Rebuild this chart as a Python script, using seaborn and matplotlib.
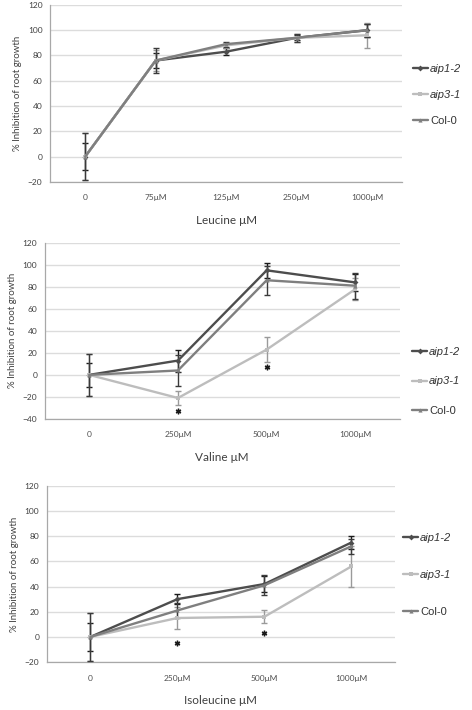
import numpy as np
import pandas as pd
import matplotlib
matplotlib.use("Agg")
import matplotlib.pyplot as plt
import seaborn as sns

GENOTYPES = ['aip1-2', 'aip3-1', 'Col-0']
COLORS = {'aip1-2': '#4d4d4d', 'aip3-1': '#bdbdbd', 'Col-0': '#7f7f7f'}
ERR_COLORS = {'aip1-2': '#1a1a1a', 'aip3-1': '#9a9a9a', 'Col-0': '#3a3a3a'}
MARKERS = {'aip1-2': 'D', 'aip3-1': 's', 'Col-0': '^'}

# Leucine
LEU_DOSES = ['0', '75μM', '125μM', '250μM', '1000μM']
LEU_AIP12 = [0, 76, 83, 94, 100]
LEU_AIP12_ERR = [11, 6, 3, 2, 5]
LEU_AIP31 = [0, 76, 88, 94, 96]
LEU_AIP31_ERR = [19, 8, 2, 3, 10]
LEU_COL0 = [0, 76, 89, 94, 100]
LEU_COL0_ERR = [19, 10, 2, 3, 5]
LEU_STARS = []

# Valine
VAL_DOSES = ['0', '250μM', '500μM', '1000μM']
VAL_AIP12 = [0, 13, 95, 84]
VAL_AIP12_ERR = [11, 10, 7, 8]
VAL_AIP31 = [0, -21, 23, 78]
VAL_AIP31_ERR = [19, 6, 11, 10]
VAL_COL0 = [0, 4, 86, 81]
VAL_COL0_ERR = [19, 14, 13, 12]
VAL_STARS = [(1, -33), (2, 7)]

# Isoleucine
ILE_DOSES = ['0', '250μM', '500μM', '1000μM']
ILE_AIP12 = [0, 30, 42, 75]
ILE_AIP12_ERR = [11, 4, 6, 5]
ILE_AIP31 = [0, 15, 16, 56]
ILE_AIP31_ERR = [19, 9, 5, 16]
ILE_COL0 = [0, 21, 41, 72]
ILE_COL0_ERR = [19, 6, 8, 6]
ILE_STARS = [(1, -5), (2, 3)]


def draw_panel(ax, doses, series, errs, stars, ylim, xlabel, leg_x, leg_y, leg_space):
    n = len(doses)
    rows = []
    for g in GENOTYPES:
        for i, v in enumerate(series[g]):
            rows.append({'pos': i, 'value': v, 'genotype': g})
    df = pd.DataFrame(rows)

    for g in GENOTYPES:
        sub = df[df['genotype'] == g]
        ax.errorbar(sub['pos'], sub['value'], yerr=errs[g], fmt='none',
                    ecolor=ERR_COLORS[g], elinewidth=1.0, capsize=2, capthick=1.0, zorder=3)
    for g in GENOTYPES:
        sub = df[df['genotype'] == g]
        sns.lineplot(data=sub, x='pos', y='value', ax=ax, color=COLORS[g],
                     marker=MARKERS[g], markersize=3, markeredgewidth=0,
                     linewidth=1.7, label=g, zorder=4)

    # significance asterisks
    if stars:
        sx, sy = zip(*stars)
        ax.plot(sx, sy, linestyle='none', marker=(6, 2, 0), markersize=4,
                markeredgewidth=1.0, color='#1a1a1a', zorder=5)

    ax.set_xlim(-0.5, n - 0.5)
    ax.set_ylim(*ylim)
    ax.set_yticks(np.arange(ylim[0], ylim[1] + 1, 20))
    ax.set_xticks(range(n))
    ax.set_xticklabels(doses)
    ax.set_xticks(np.arange(0.5, n - 0.5, 1), minor=True)
    ax.tick_params(axis='x', which='major', length=0, pad=9, labelsize=6, colors='#505050')
    ax.tick_params(axis='x', which='minor', length=2.5, color='#a0a0a0', width=0.8)
    ax.tick_params(axis='y', length=2.5, color='#a0a0a0', width=0.8, labelsize=6,
                   labelcolor='#404040', pad=3)
    ax.yaxis.grid(True, color='#dcdcdc', linewidth=1.0)
    ax.xaxis.grid(False)
    ax.set_axisbelow(True)
    sns.despine(ax=ax, top=True, right=True)
    for s in ['left', 'bottom']:
        ax.spines[s].set_color('#a8a8a8')
        ax.spines[s].set_linewidth(0.9)

    ax.set_ylabel('% Inhibition of root growth', fontsize=7, color='#404040', labelpad=4)
    ax.set_xlabel(xlabel, fontsize=8.5, color='#404040', labelpad=10)

    leg = ax.legend(loc='center left', bbox_to_anchor=(leg_x, leg_y), frameon=False,
                    fontsize=8, borderaxespad=0, borderpad=0, handlelength=1.4,
                    handletextpad=0.15, labelspacing=leg_space)
    for t in leg.get_texts():
        t.set_color('#333333')
        t.set_family('Liberation Sans')
        if t.get_text().startswith('aip'):
            t.set_fontstyle('italic')


sns.set_theme(style="white")
plt.rcParams['font.family'] = ['Lato', 'DejaVu Sans']

fig = plt.figure(figsize=(4.72, 7.10), dpi=100)
ax1 = fig.add_axes([0.106, 0.744, 0.746, 0.249])
ax2 = fig.add_axes([0.095, 0.410, 0.752, 0.248])
ax3 = fig.add_axes([0.0996, 0.0676, 0.737, 0.248])

draw_panel(ax1, LEU_DOSES,
           {'aip1-2': LEU_AIP12, 'aip3-1': LEU_AIP31, 'Col-0': LEU_COL0},
           {'aip1-2': LEU_AIP12_ERR, 'aip3-1': LEU_AIP31_ERR, 'Col-0': LEU_COL0_ERR},
           LEU_STARS, (-20, 120), 'Leucine μM', 1.03, 0.49, 1.45)
draw_panel(ax2, VAL_DOSES,
           {'aip1-2': VAL_AIP12, 'aip3-1': VAL_AIP31, 'Col-0': VAL_COL0},
           {'aip1-2': VAL_AIP12_ERR, 'aip3-1': VAL_AIP31_ERR, 'Col-0': VAL_COL0_ERR},
           VAL_STARS, (-40, 120), 'Valine μM', 1.034, 0.213, 1.75)
draw_panel(ax3, ILE_DOSES,
           {'aip1-2': ILE_AIP12, 'aip3-1': ILE_AIP31, 'Col-0': ILE_COL0},
           {'aip1-2': ILE_AIP12_ERR, 'aip3-1': ILE_AIP31_ERR, 'Col-0': ILE_COL0_ERR},
           ILE_STARS, (-20, 120), 'Isoleucine μM', 1.023, 0.494, 2.4)

fig.savefig('out.png', dpi=100)
plt.close(fig)
